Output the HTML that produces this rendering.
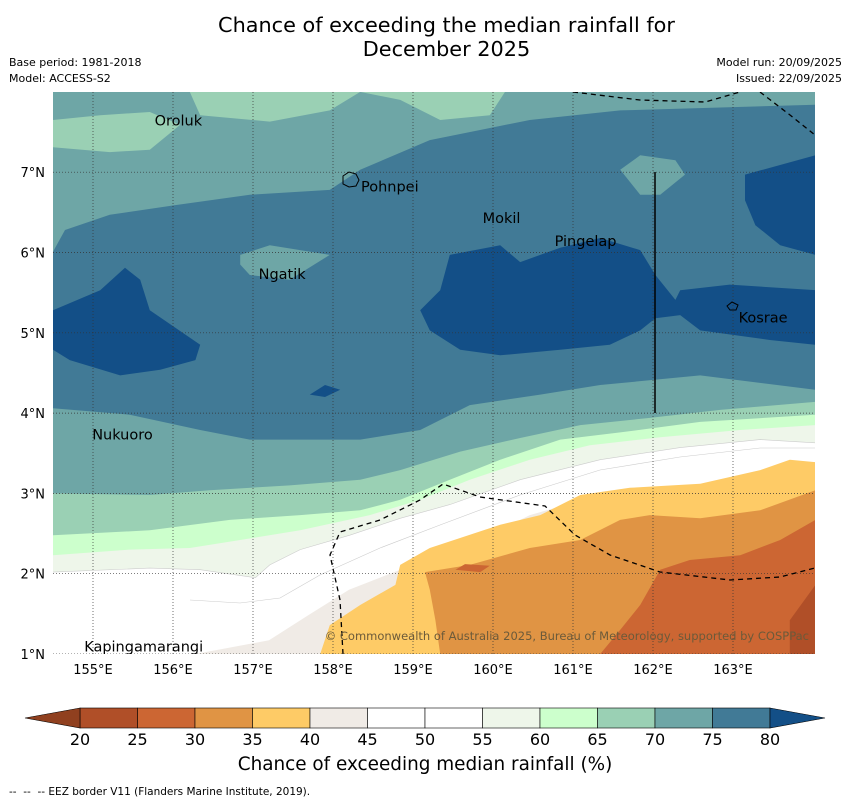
<!DOCTYPE html>
<html><head><meta charset="utf-8">
<style>
body{margin:0;background:#fff;font-family:"DejaVu Sans","Liberation Sans",sans-serif;}
#wrap{position:relative;width:850px;height:804px;overflow:hidden;}
.t{position:absolute;white-space:nowrap;color:#000;}
</style></head>
<body>
<div id="wrap">
<div class="t" style="left:0;width:893px;top:13px;text-align:center;font-size:20.8px;line-height:24px;">Chance of exceeding the median rainfall for<br>December 2025</div>
<div class="t" style="left:9px;top:55px;font-size:11px;line-height:16px;">Base period: 1981-2018<br>Model: ACCESS-S2</div>
<div class="t" style="right:8px;top:55px;font-size:11px;line-height:16px;text-align:right;">Model run: 20/09/2025<br>Issued: 22/09/2025</div>
<svg id="map" width="850" height="804" style="position:absolute;left:0;top:0;"></svg>
<div class="t" style="left:0;width:850px;top:754px;text-align:center;font-size:18.4px;">Chance of exceeding median rainfall (%)</div>
<div class="t" style="left:9px;top:786px;font-size:10.5px;">-- &nbsp;-- &nbsp;-- EEZ border V11 (Flanders Marine Institute, 2019).</div>
</div>
<script>
const lonTicks=[155,156,157,158,159,160,161,162,163];
const latTicks=[1,2,3,4,5,6,7];
const cbLevels=[20,25,30,35,40,45,50,55,60,65,70,75,80];
const cbColors=["#b04f28","#cc6633","#e09444","#fecb66","#f0ebe6","#ffffff","#ffffff","#eef6ea","#ccffcc","#9ad0b4","#6ea6a6","#417a96"];
const c7580=[[154.5,6.01],[154.65,6.28],[155.21,6.47],[156.03,6.59],[156.96,6.72],[157.96,6.78],[158.34,7.03],[159.21,7.4],[160.46,7.65],[161.59,7.77],[164.03,7.84],[164.03,4.29],[162.59,4.47],[161.34,4.35],[160.59,4.23],[159.71,4.1],[159.09,3.79],[158.34,3.67],[156.96,3.67],[156.34,3.79],[155.46,3.98],[154.5,4.06]];
const c7075holes=[[[156.84,5.97],[157.21,6.09],[157.96,5.97],[157.46,5.66],[156.96,5.72],[156.84,5.85]],[[161.59,7.03],[161.84,7.21],[162.28,7.15],[162.4,6.97],[162.09,6.72],[161.84,6.72]]];
const c80=[
[[154.5,5.28],[155.09,5.53],[155.4,5.81],[155.59,5.66],[155.71,5.28],[156.34,4.85],[156.28,4.66],[155.84,4.54],[155.34,4.47],[154.71,4.66],[154.5,4.79]],
[[159.09,5.28],[159.34,5.53],[159.46,5.97],[160.09,6.09],[160.34,5.88],[160.84,6.06],[161.34,6.18],[161.84,6.03],[162.03,5.72],[162.28,5.41],[162.34,5.53],[162.96,5.6],[164.03,5.53],[164.03,4.85],[163.46,4.91],[162.59,5.03],[162.34,5.22],[162.03,5.18],[161.84,5.03],[161.46,4.85],[160.84,4.79],[160.09,4.72],[159.59,4.79],[159.21,5.03]],
[[163.15,6.97],[164.03,7.21],[164.03,5.97],[163.59,6.09],[163.28,6.34],[163.15,6.65]],
[[157.71,4.23],[157.9,4.35],[158.09,4.29],[157.9,4.2]]];
const c6570top=[
[[154.5,7.65],[155.09,7.71],[155.71,7.75],[156.09,7.59],[155.71,7.28],[155.21,7.25],[154.5,7.31]],
[[156.21,8.0],[158.34,8.0],[157.96,7.77],[157.21,7.63],[156.34,7.71]],
[[158.34,8.0],[160.15,8.0],[159.96,7.71],[159.34,7.65],[158.84,7.9]]];
const bandColors=["#9ad0b4","#ccffcc","#eef6ea","#ffffff","#f0ebe6","#fecb66","#e09444","#cc6633","#b04f28"];
const bands=[
[[154.5,3.0],[155.71,2.98],[156.46,3.04],[157.46,3.1],[158.34,3.17],[158.84,3.29],[159.59,3.52],[160.34,3.69],[161.09,3.85],[161.96,3.94],[162.84,4.04],[164.03,4.14]],
[[154.5,2.48],[155.71,2.54],[156.71,2.67],[157.59,2.73],[158.34,2.79],[158.84,2.92],[159.46,3.17],[160.09,3.42],[160.84,3.67],[161.59,3.76],[162.59,3.89],[164.03,3.98]],
[[154.5,2.23],[155.46,2.3],[156.21,2.32],[156.84,2.42],[157.59,2.54],[158.46,2.73],[159.09,2.92],[159.71,3.17],[160.46,3.42],[161.21,3.6],[162.09,3.7],[163.09,3.79],[164.03,3.85]],
[[154.5,2.02],[155.71,2.07],[156.34,2.05],[157.03,1.95],[157.21,2.11],[157.59,2.3],[158.21,2.48],[158.84,2.69],[159.46,2.86],[160.34,3.17],[161.34,3.42],[162.34,3.57],[163.34,3.67],[164.03,3.63]],
[[156.28,1.0],[157.2,1.17],[157.7,1.49],[158.2,1.8],[158.84,2.05],[159.34,2.23],[159.84,2.42],[160.46,2.73],[161.34,2.98],[162.34,3.04],[163.21,3.23],[163.71,3.39],[164.03,3.39]],
[[157.84,1.0],[157.96,1.36],[158.34,1.61],[158.78,1.86],[158.84,2.11],[159.21,2.32],[160.09,2.61],[160.59,2.73],[161.09,2.98],[161.71,3.07],[162.59,3.12],[163.34,3.29],[163.71,3.42],[164.03,3.39]],
[[159.34,1.0],[159.28,1.42],[159.21,1.8],[159.15,2.02],[159.71,2.11],[160.46,2.32],[161.09,2.42],[161.59,2.67],[161.96,2.73],[162.59,2.69],[163.34,2.79],[164.03,3.04]],
[[161.34,1.0],[161.59,1.3],[161.84,1.61],[162.09,2.05],[162.46,2.17],[163.09,2.23],[163.59,2.42],[164.03,2.67]],
[[163.71,1.0],[163.71,1.42],[164.03,1.86]]];
const patch3035=[[159.53,2.05],[159.84,2.02],[159.96,2.1],[159.65,2.12]];
const islands=[["Oroluk",155.77,7.58],["Pohnpei",158.35,6.76],["Mokil",159.87,6.37],["Pingelap",160.77,6.08],["Ngatik",157.07,5.67],["Kosrae",163.07,5.13],["Nukuoro",154.99,3.67],["Kapingamarangi",154.89,1.03]];

const NS="http://www.w3.org/2000/svg";
const svg=document.getElementById('map');
const X0=53,X1=815,Y0=92,Y1=654;
const FF='DejaVu Sans, Liberation Sans, sans-serif';
const xS=lon=>53+(lon-154.5)*80;
const yS=lat=>654-(lat-1)*80.3;
function mk(tag,at,parent){const e=document.createElementNS(NS,tag);for(const k in at)e.setAttribute(k,at[k]);(parent||svg).appendChild(e);return e;}
const pts=a=>a.map(p=>xS(p[0]).toFixed(1)+","+yS(p[1]).toFixed(1)).join(" ");
const defs=mk('defs',{});const cp=mk('clipPath',{id:'cp'},defs);mk('rect',{x:X0,y:Y0,width:X1-X0,height:Y1-Y0},cp);
const g=mk('g',{'clip-path':'url(#cp)'});
let e=mk('rect',{x:X0,y:Y0,width:X1-X0,height:Y1-Y0,fill:'#6ea6a6'},g);


c6570top.forEach(p=>{const el=mk('polygon',{points:pts(p),fill:'#9ad0b4'},g);

});
e=mk('polygon',{points:pts(c7580),fill:'#417a96'},g);


c7075holes.forEach(p=>{const el=mk('polygon',{points:pts(p),fill:'#6ea6a6'},g);

});
c80.forEach(p=>{const el=mk('polygon',{points:pts(p),fill:'#134f87'},g);

});
bands.forEach((b,i)=>{const poly=b.concat([[164.5,b[b.length-1][1]],[164.5,0.5],[b[0][0],0.5]]);
if(b[0][0]<=154.5){poly.push([154,0.5]);poly.push([154,b[0][1]]);}
const el=mk('polygon',{points:pts(poly),fill:bandColors[i],stroke:i==3?'#ccc':'none','stroke-width':0.6},g);

});
e=mk('polygon',{points:pts(patch3035),fill:'#cc6633'},g);


mk('polyline',{points:"190,600 240,603 280,598 320,575 380,548 440,525 520,495 600,470 680,457 760,448 815,448",fill:'none',stroke:'#ccc','stroke-width':0.6},g);
lonTicks.forEach(l=>{const el=mk('line',{x1:xS(l),x2:xS(l),y1:Y0,y2:Y1,stroke:'#333','stroke-width':0.7,'stroke-dasharray':'1,2'},g);

});
latTicks.forEach(l=>{const el=mk('line',{x1:X0,x2:X1,y1:yS(l),y2:yS(l),stroke:'#333','stroke-width':0.7,'stroke-dasharray':'1,2'},g);

});
["573,92 640,100 705,102 740,92","760,92 790,115 815,135","343,654 340,600 330,555 340,532 380,520 420,500 443,484 480,497 545,506 575,535 610,555 660,572 730,580 780,577 815,568"].forEach(p=>{
const el=mk('polyline',{points:p,fill:'none',stroke:'#000','stroke-width':1.3,'stroke-dasharray':'5,4'},g);

});
e=mk('line',{x1:655,x2:655,y1:172,y2:413,stroke:'#000','stroke-width':1.5},g);


mk('path',{d:"M343,176 l6,-4 7,2 3,6 -3,6 -7,1 -6,-3z",fill:'none',stroke:'#000','stroke-width':1},g);
mk('path',{d:"M727,306 l5,-4 6,3 -2,5 -6,0z",fill:'none',stroke:'#000','stroke-width':1},g);
islands.forEach(d=>{const el=mk('text',{x:xS(d[1]),y:yS(d[2]),'font-size':14.5,fill:'#000','font-family':FF},g);
el.textContent=d[0];

});
e=mk('text',{x:809,y:640,'text-anchor':'end','font-size':11.5,fill:'#6b5a3a','font-family':FF},g);
e.textContent="© Commonwealth of Australia 2025, Bureau of Meteorology, supported by COSPPac";


lonTicks.forEach(l=>{const el=mk('text',{x:xS(l),y:674,'text-anchor':'middle','font-size':13,'font-family':FF});
el.textContent=l+"°E";

});
latTicks.forEach(l=>{const el=mk('text',{x:45,y:yS(l)+5,'text-anchor':'end','font-size':13,'font-family':FF});
el.textContent=l+"°N";

});
const cx=v=>80+(v-20)*(690/60);
cbColors.forEach((c,i)=>{const el=mk('rect',{x:cx(cbLevels[i]),y:708,width:cx(cbLevels[i+1])-cx(cbLevels[i]),height:20,fill:c,stroke:'#000','stroke-width':0.6});

});
e=mk('polygon',{points:`${cx(20)},708 25,718 ${cx(20)},728`,fill:'#90401f',stroke:'#000','stroke-width':0.6});


e=mk('polygon',{points:`${cx(80)},708 825,718 ${cx(80)},728`,fill:'#134f87',stroke:'#000','stroke-width':0.6});


cbLevels.forEach(v=>{const el=mk('text',{x:cx(v),y:745,'text-anchor':'middle','font-size':16,'font-family':FF});
el.textContent=v;

});
</script>
</body></html>
